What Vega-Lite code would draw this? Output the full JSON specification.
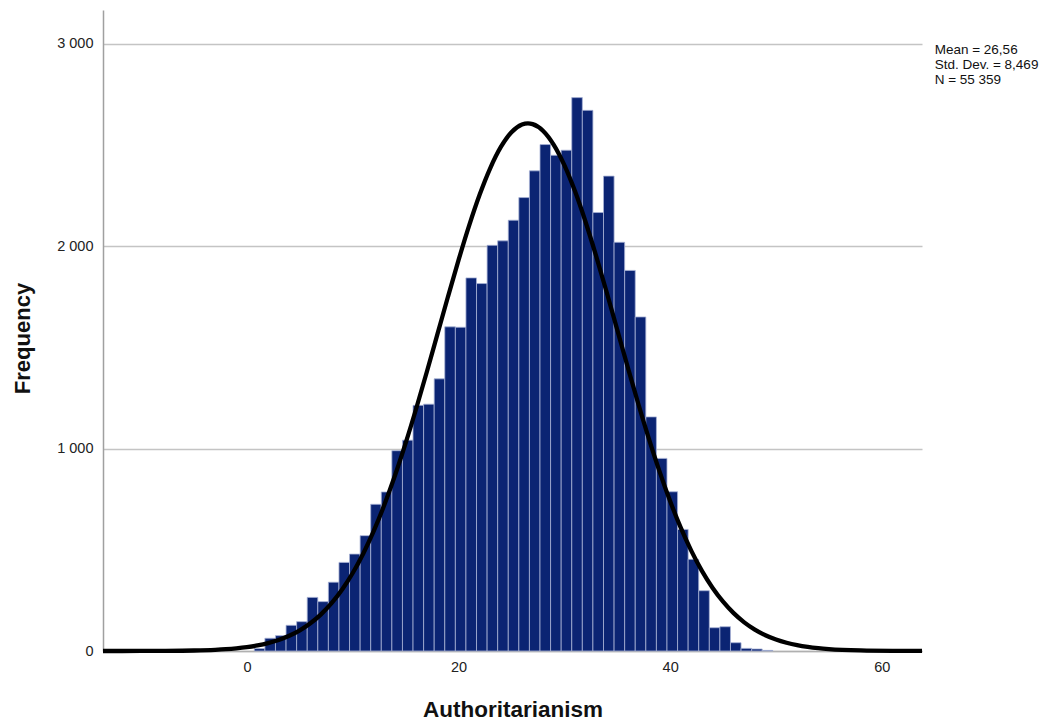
{
  "$schema": "https://vega.github.io/schema/vega-lite/v6.json",
  "width": 819,
  "height": 641,
  "autosize": "none",
  "padding": {"left": 103, "top": 10, "right": 136, "bottom": 71},
  "background": "white",
  "config": {
    "view": {"stroke": null},
    "font": "Liberation Sans",
    "axis": {"labelFont": "Liberation Sans", "titleFont": "Liberation Sans"}
  },
  "datasets": {
    "bars": [
      {"x0": 0.7, "x1": 1.7, "count": 12},
      {"x0": 1.7, "x1": 2.7, "count": 63},
      {"x0": 2.7, "x1": 3.7, "count": 76},
      {"x0": 3.7, "x1": 4.7, "count": 127},
      {"x0": 4.7, "x1": 5.7, "count": 145},
      {"x0": 5.7, "x1": 6.7, "count": 265},
      {"x0": 6.7, "x1": 7.7, "count": 244},
      {"x0": 7.7, "x1": 8.7, "count": 340},
      {"x0": 8.7, "x1": 9.7, "count": 438},
      {"x0": 9.7, "x1": 10.7, "count": 479},
      {"x0": 10.7, "x1": 11.7, "count": 570},
      {"x0": 11.7, "x1": 12.7, "count": 725},
      {"x0": 12.7, "x1": 13.7, "count": 786},
      {"x0": 13.7, "x1": 14.7, "count": 990},
      {"x0": 14.7, "x1": 15.7, "count": 1042},
      {"x0": 15.7, "x1": 16.7, "count": 1214},
      {"x0": 16.7, "x1": 17.7, "count": 1220},
      {"x0": 17.7, "x1": 18.7, "count": 1345},
      {"x0": 18.7, "x1": 19.7, "count": 1602},
      {"x0": 19.7, "x1": 20.7, "count": 1600},
      {"x0": 20.7, "x1": 21.7, "count": 1844},
      {"x0": 21.7, "x1": 22.7, "count": 1816},
      {"x0": 22.7, "x1": 23.7, "count": 2005},
      {"x0": 23.7, "x1": 24.7, "count": 2027},
      {"x0": 24.7, "x1": 25.7, "count": 2129},
      {"x0": 25.7, "x1": 26.7, "count": 2241},
      {"x0": 26.7, "x1": 27.7, "count": 2373},
      {"x0": 27.7, "x1": 28.7, "count": 2503},
      {"x0": 28.7, "x1": 29.7, "count": 2450},
      {"x0": 29.7, "x1": 30.7, "count": 2475},
      {"x0": 30.7, "x1": 31.7, "count": 2735},
      {"x0": 31.7, "x1": 32.7, "count": 2672},
      {"x0": 32.7, "x1": 33.7, "count": 2167},
      {"x0": 33.7, "x1": 34.7, "count": 2347},
      {"x0": 34.7, "x1": 35.7, "count": 2020},
      {"x0": 35.7, "x1": 36.7, "count": 1881},
      {"x0": 36.7, "x1": 37.7, "count": 1651},
      {"x0": 37.7, "x1": 38.7, "count": 1157},
      {"x0": 38.7, "x1": 39.7, "count": 952},
      {"x0": 39.7, "x1": 40.7, "count": 787},
      {"x0": 40.7, "x1": 41.7, "count": 601},
      {"x0": 41.7, "x1": 42.7, "count": 453},
      {"x0": 42.7, "x1": 43.7, "count": 298},
      {"x0": 43.7, "x1": 44.7, "count": 115},
      {"x0": 44.7, "x1": 45.7, "count": 120},
      {"x0": 45.7, "x1": 46.7, "count": 41},
      {"x0": 46.7, "x1": 47.7, "count": 13},
      {"x0": 47.7, "x1": 48.7, "count": 10},
      {"x0": 48.7, "x1": 49.7, "count": 3}
    ],
    "curve": [
      {"x": -13.6, "f": 0.04}, {"x": -10, "f": 0.23}, {"x": -8, "f": 0.63}, {"x": -5, "f": 2.5},
      {"x": -3, "f": 5.9}, {"x": -2, "f": 8.8}, {"x": -1, "f": 13.1}, {"x": 0, "f": 19.1},
      {"x": 1, "f": 27.4}, {"x": 2, "f": 38.9}, {"x": 3, "f": 54.4}, {"x": 4, "f": 75.0},
      {"x": 5, "f": 102.1}, {"x": 6, "f": 136.9}, {"x": 7, "f": 181.2}, {"x": 8, "f": 236.3},
      {"x": 9, "f": 303.8}, {"x": 10, "f": 385.4}, {"x": 11, "f": 482.2}, {"x": 12, "f": 594.8},
      {"x": 13, "f": 723.7}, {"x": 14, "f": 868.4}, {"x": 15, "f": 1027.4}, {"x": 16, "f": 1198.5},
      {"x": 17, "f": 1379.0}, {"x": 18, "f": 1564.6}, {"x": 19, "f": 1750.8}, {"x": 20, "f": 1931.8},
      {"x": 21, "f": 2102.3}, {"x": 22, "f": 2256.0}, {"x": 23, "f": 2387.1}, {"x": 24, "f": 2491.2},
      {"x": 25, "f": 2563.8}, {"x": 26, "f": 2602.0}, {"x": 26.56, "f": 2607.7}, {"x": 27, "f": 2604.2},
      {"x": 28, "f": 2570.3}, {"x": 29, "f": 2501.7}, {"x": 30, "f": 2401.2}, {"x": 31, "f": 2272.9},
      {"x": 32, "f": 2121.6}, {"x": 33, "f": 1952.9}, {"x": 34, "f": 1773.0}, {"x": 35, "f": 1587.1},
      {"x": 36, "f": 1401.1}, {"x": 37, "f": 1219.6}, {"x": 38, "f": 1047.3}, {"x": 39, "f": 886.6},
      {"x": 40, "f": 740.3}, {"x": 41, "f": 609.4}, {"x": 42, "f": 495.0}, {"x": 43, "f": 396.1},
      {"x": 44, "f": 313.0}, {"x": 45, "f": 243.7}, {"x": 46, "f": 187.1}, {"x": 47, "f": 141.7},
      {"x": 48, "f": 105.8}, {"x": 49, "f": 77.9}, {"x": 50, "f": 56.6}, {"x": 51, "f": 40.6},
      {"x": 52, "f": 28.6}, {"x": 53, "f": 19.9}, {"x": 54, "f": 13.7}, {"x": 55, "f": 9.3},
      {"x": 58, "f": 2.65}, {"x": 61, "f": 0.6}, {"x": 63.8, "f": 0.16}
    ],
    "stats": [
      {"x": 65.0, "y": 2968, "label": "Mean = 26,56"},
      {"x": 65.0, "y": 2894, "label": "Std. Dev. = 8,469"},
      {"x": 65.0, "y": 2820, "label": "N = 55 359"}
    ]
  },
  "layer": [
    {
      "data": {"name": "bars"},
      "mark": {"type": "rect", "fill": "#0b2473", "stroke": "#a8b3d6", "strokeWidth": 0.8},
      "encoding": {
        "x": {
          "field": "x0", "type": "quantitative",
          "scale": {"domain": [-13.6, 63.8], "nice": false, "zero": false},
          "title": "Authoritarianism",
          "axis": {
            "values": [0, 20, 40, 60], "grid": false, "ticks": false,
            "domainColor": "#b0b0b0", "domainWidth": 1.5,
            "labelFontSize": 14.5, "labelColor": "#222", "labelPadding": 9,
            "titleFontSize": 22.5, "titleFontWeight": "bold", "titleColor": "#111",
            "titleY": 58, "titleBaseline": "middle"
          }
        },
        "x2": {"field": "x1"},
        "y": {
          "field": "count", "type": "quantitative",
          "scale": {"domain": [0, 3168], "nice": false},
          "title": "Frequency",
          "axis": {
            "values": [0, 1000, 2000, 3000],
            "labelExpr": "replace(format(datum.value, ','), ',', ' ')",
            "grid": true, "gridColor": "#c4c4c4", "gridWidth": 1.3,
            "ticks": false, "domainColor": "#a0a0a0", "domainWidth": 1.5,
            "labelFontSize": 14.5, "labelColor": "#222", "labelPadding": 10,
            "titleFontSize": 22, "titleFontWeight": "bold", "titleColor": "#111",
            "titleX": -81, "titleY": 328, "titleAngle": -90, "titleBaseline": "middle", "titleAlign": "center"
          }
        },
        "y2": {"datum": 0}
      }
    },
    {
      "data": {"name": "curve"},
      "mark": {"type": "line", "color": "#000000", "strokeWidth": 4.3, "interpolate": "monotone"},
      "encoding": {
        "x": {"field": "x", "type": "quantitative", "title": "Authoritarianism"},
        "y": {"field": "f", "type": "quantitative", "title": "Frequency"}
      }
    },
    {
      "data": {"name": "stats"},
      "mark": {"type": "text", "align": "left", "baseline": "middle", "fontSize": 13.5, "color": "#111", "font": "Liberation Sans"},
      "encoding": {
        "x": {"field": "x", "type": "quantitative", "title": "Authoritarianism"},
        "y": {"field": "y", "type": "quantitative", "title": "Frequency"},
        "text": {"field": "label"}
      }
    }
  ]
}
